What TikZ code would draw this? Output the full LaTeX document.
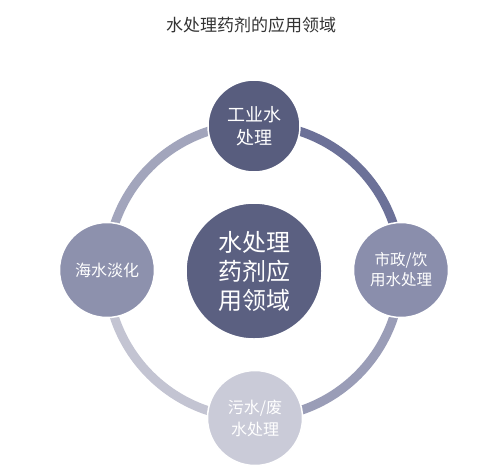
\documentclass[tikz,border=0pt]{standalone}
\usepackage{fontspec}
\newfontfamily\cjk{Noto Sans CJK SC}
\definecolor{cTop}{HTML}{585D7E}
\definecolor{cCenter}{HTML}{5B6081}
\definecolor{cRight}{HTML}{8A8EAC}
\definecolor{cLeft}{HTML}{8D91AD}
\definecolor{cBottom}{HTML}{CACBD8}
\definecolor{rTR}{HTML}{6C7198}
\definecolor{rRB}{HTML}{9A9DB7}
\definecolor{rBL}{HTML}{C3C4D2}
\definecolor{rLT}{HTML}{A2A5BC}
\definecolor{titlegray}{HTML}{333333}
\tikzset{
  ring/.style={line width=9pt},
  bubble/.style={circle, draw=white, line width=1.5pt, text=white, align=center, inner sep=0pt, font=\cjk},
}
\begin{document}
\begin{tikzpicture}[x=1pt,y=-1pt]
\useasboundingbox (0,0) rectangle (478,474);
\fill[white] (0,0) rectangle (478,474);
\node[font=\cjk\fontsize{17}{20}\selectfont, text=titlegray] (title) at (251,25) {水处理药剂的应用领域};
\coordinate (c) at (254,271);
\draw[ring, rTR] (c) ++(270:147) arc[start angle=270, end angle=360, radius=147];
\draw[ring, rRB] (c) ++(0:147) arc[start angle=0, end angle=90, radius=147];
\draw[ring, rBL] (c) ++(90:147) arc[start angle=90, end angle=180, radius=147];
\draw[ring, rLT] (c) ++(180:147) arc[start angle=180, end angle=270, radius=147];
\node[bubble, fill=cCenter, minimum size=136pt, font=\cjk\fontsize{24}{29}\selectfont] (center) at (254,271) {水处理\\药剂应\\用领域};
\node[bubble, fill=cTop, minimum size=92pt, font=\cjk\fontsize{18}{23}\selectfont] (top) at (254,126) {工业水\\处理};
\node[bubble, fill=cRight, minimum size=95pt, font=\cjk\fontsize{15.5}{20}\selectfont] (right) at (401,270) {市政/饮\\用水处理};
\node[bubble, fill=cBottom, minimum size=95pt, font=\cjk\fontsize{16}{22}\selectfont] (bottom) at (255,418) {污水/废\\水处理};
\node[bubble, fill=cLeft, minimum size=95pt, font=\cjk\fontsize{16}{20}\selectfont] (left) at (107,270) {海水淡化};
\end{tikzpicture}
\end{document}
